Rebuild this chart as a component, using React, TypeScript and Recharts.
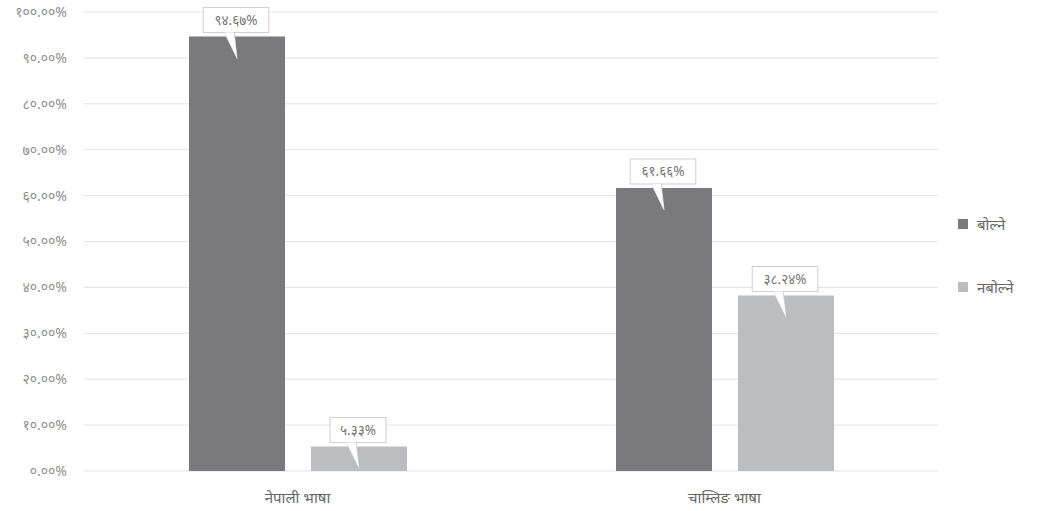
import React from 'react';
import { BarChart, Bar, XAxis, YAxis, CartesianGrid, Legend, LabelList } from 'recharts';

const categories = ['नेपाली भाषा', 'चाम्लिङ भाषा'];
const speaking = [94.67, 61.66];
const notSpeaking = [5.33, 38.24];
const yTicks = [0, 10, 20, 30, 40, 50, 60, 70, 80, 90, 100];

const SERIES = [
  { key: 'speak', name: 'बोल्ने', color: '#7a7a7e' },
  { key: 'nospeak', name: 'नबोल्ने', color: '#bcbdc1' }
];

const data = categories.map((name, i) => ({
  name,
  speak: speaking[i],
  nospeak: notSpeaking[i]
}));

const DIGITS = '०१२३४५६७८९';
const toNepali = (s: string) => s.replace(/[0-9]/g, (d) => DIGITS[Number(d)]);

const FONT = '"Noto Sans", "DejaVu Sans", sans-serif';

function Callout(props: any) {
  const { x, y, width, value } = props;
  const text = toNepali(Number(value).toFixed(2)) + '%';
  const cx = x + width / 2;
  const boxW = text.length * 9.6 + 8;
  const boxH = 25;
  const bottom = y - 4;
  const top = bottom - boxH;
  const left = cx - boxW / 2 - 1;
  return (
    <g>
      <path
        d={`M${cx - 13},${bottom - 1} L${cx},${y + 22} L${cx - 3},${bottom - 1} Z`}
        fill="#fff"
        stroke="#cfcfcf"
      />
      <rect x={left} y={top} width={boxW} height={boxH} fill="#fff" stroke="#cfcfcf" />
      <path d={`M${cx - 12.5},${bottom} L${cx},${y + 21} L${cx - 3.5},${bottom} Z`} fill="#fff" />
      <text x={left + boxW / 2} y={top + boxH / 2 + 5} textAnchor="middle" fontSize={13.5} fill="#757575" fontFamily={FONT}>
        {text}
      </text>
    </g>
  );
}

function LegendBox() {
  return (
    <div style={{ fontFamily: FONT }}>
      {SERIES.map((s, i) => (
        <div key={s.key} style={{ display: 'flex', alignItems: 'center', height: 22, marginBottom: i === 0 ? 41 : 0 }}>
          <span style={{ width: 10, height: 10, background: s.color, display: 'inline-block', marginRight: 9 }} />
          <span style={{ fontSize: 15, color: '#666' }}>{s.name}</span>
        </div>
      ))}
    </div>
  );
}

export default function App() {
  return (
    <div style={{ position: 'absolute', left: 0, top: 0, background: '#fff' }}>
      <BarChart
        width={1037}
        height={511}
        data={data}
        margin={{ top: 12, right: 19, left: 0, bottom: 0 }}
        barGap={26}
        barSize={96}
      >
        <CartesianGrid vertical={false} stroke="#e2e2e2" />
        <XAxis
          dataKey="name"
          axisLine={false}
          tickLine={false}
          height={40}
          tickMargin={15}
          tick={{ fontSize: 15, fill: '#666', fontFamily: FONT }}
        />
        <YAxis
          width={84}
          domain={[0, 100]}
          ticks={yTicks}
          axisLine={false}
          tickLine={false}
          tickSize={0}
          tickMargin={17}
          tickFormatter={(v: number) => toNepali(v.toFixed(2)) + '%'}
          tick={{ fontSize: 14, fill: '#8e8e8e', fontFamily: FONT }}
        />
        <Legend
          layout="vertical"
          align="right"
          verticalAlign="middle"
          width={80}
          content={<LegendBox />}
          wrapperStyle={{ left: 958, top: 213, right: 'auto' }}
        />
        {SERIES.map((s) => (
          <Bar key={s.key} dataKey={s.key} name={s.name} fill={s.color} isAnimationActive={false}>
            <LabelList dataKey={s.key} content={<Callout />} />
          </Bar>
        ))}
      </BarChart>
    </div>
  );
}
